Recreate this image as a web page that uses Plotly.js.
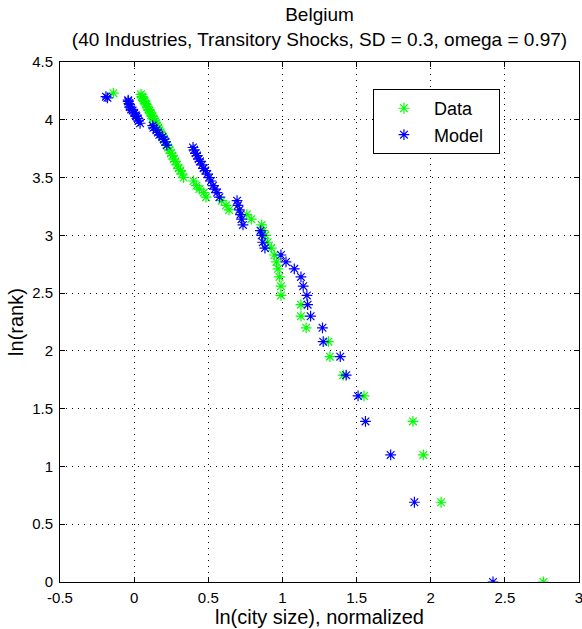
<!DOCTYPE html>
<html>
<head>
<meta charset="utf-8">
<script src="https://cdn.plot.ly/plotly-3.0.1.min.js"></script>
<style>html,body{margin:0;padding:0;background:#fff;}#chart{width:582px;height:629px;}</style>
</head>
<body>
<div id="chart"></div>
<script>
// ln(rank), rank 1..69
var lnRank = [0, 0.69, 1.10, 1.39, 1.61, 1.79, 1.95, 2.08, 2.20, 2.30, 2.40, 2.48, 2.56, 2.64, 2.71, 2.77, 2.83, 2.89, 2.94, 3.00,
  3.04, 3.09, 3.14, 3.18, 3.22, 3.26, 3.30, 3.33, 3.37, 3.40, 3.43, 3.47, 3.50, 3.53, 3.56, 3.58, 3.61, 3.64, 3.66, 3.69,
  3.71, 3.74, 3.76, 3.78, 3.81, 3.83, 3.85, 3.87, 3.89, 3.91, 3.93, 3.95, 3.97, 3.99, 4.01, 4.03, 4.04, 4.06, 4.08, 4.09,
  4.11, 4.13, 4.14, 4.16, 4.17, 4.19, 4.20, 4.22, 4.23];

// Data: ln(city size), normalized, by rank
var dataSize = [2.76, 2.07, 1.95, 1.88, 1.55, 1.41, 1.32, 1.31, 1.16, 1.125, 1.125, 0.99, 0.99, 0.98, 0.97, 0.96, 0.945, 0.925, 0.90, 0.885,
  0.87, 0.86, 0.79, 0.76, 0.64, 0.62, 0.59, 0.485, 0.47, 0.44, 0.42, 0.40, 0.333, 0.323, 0.311, 0.30, 0.289, 0.278, 0.268, 0.258,
  0.248, 0.238, 0.229, 0.22, 0.211, 0.202, 0.194, 0.185, 0.177, 0.169, 0.161, 0.153, 0.146, 0.138, 0.131, 0.124, 0.116, 0.11, 0.103, 0.096,
  0.089, 0.083, 0.077, 0.07, 0.064, 0.058, 0.052, 0.046, -0.14];

// Model: ln(city size), normalized, by rank
var modelSize = [2.42, 1.89, 1.73, 1.56, 1.51, 1.43, 1.39, 1.275, 1.27, 1.19, 1.17, 1.165, 1.14, 1.125, 1.08, 1.024, 0.99, 0.882, 0.867, 0.86,
  0.852, 0.734, 0.724, 0.717, 0.71, 0.70, 0.694, 0.575, 0.559, 0.545, 0.532, 0.518, 0.505, 0.493, 0.48, 0.468, 0.458, 0.444, 0.435, 0.424,
  0.414, 0.404, 0.397, 0.22, 0.21, 0.20, 0.19, 0.17, 0.16, 0.15, 0.13, 0.125, 0.04, 0.03, 0.025, 0.015, 0.01, 0.0, -0.01, -0.02,
  -0.03, -0.03, -0.035, -0.04, -0.04, -0.18, -0.19];

var seriesNames = ['Data', 'Model'];
var titleText = 'Belgium<br>(40 Industries, Transitory Shocks, SD = 0.3, omega = 0.97)';
var xTitle = 'ln(city size), normalized';
var yTitle = 'ln(rank)';
var xTicks = [-0.5, 0, 0.5, 1, 1.5, 2, 2.5, 3];
var xTickText = ['-0.5', '0', '0.5', '1', '1.5', '2', '2.5', '3'];
var yTicks = [0, 0.5, 1, 1.5, 2, 2.5, 3, 3.5, 4, 4.5];
var yTickText = ['0', '0.5', '1', '1.5', '2', '2.5', '3', '3.5', '4', '4.5'];

var FONT = 'Arial, "Liberation Sans", Helvetica, sans-serif';

function mk(color) {
  return {symbol: 'asterisk-open', size: 9, color: color, line: {color: color, width: 1.2}};
}

var pad = '\u00a0\u00a0';
var traces = [
  {x: dataSize, y: lnRank.slice(0, dataSize.length), mode: 'markers', type: 'scatter', name: seriesNames[0] + pad, marker: mk('#00ff00')},
  {x: modelSize, y: lnRank.slice(0, modelSize.length), mode: 'markers', type: 'scatter', name: seriesNames[1] + pad, marker: mk('#0000ff')}
];

var axisCommon = {
  showline: true, linecolor: '#000', linewidth: 1, mirror: 'ticks',
  ticks: 'inside', ticklen: 5, tickcolor: '#000', tickwidth: 1,
  showgrid: true, gridcolor: '#000', gridwidth: 1, griddash: '1px,5px',
  zeroline: false, automargin: false, ticklabeloverflow: 'allow',
  tickfont: {family: FONT, size: 15, color: '#000'}
};

var layout = {
  width: 582, height: 629,
  margin: {l: 60, r: 3, t: 62, b: 47},
  paper_bgcolor: '#fff', plot_bgcolor: '#fff',
  font: {family: FONT, color: '#000'},
  title: {text: titleText, font: {family: FONT, size: 19, color: '#000'}, x: 0.5, xref: 'paper', xanchor: 'center',
    y: 0.966, yref: 'container', yanchor: 'top'},
  xaxis: Object.assign({}, axisCommon, {range: [-0.5, 3], tickvals: xTicks, ticktext: xTickText, ticklabelstandoff: 2,
    title: {text: xTitle, font: {family: FONT, size: 20, color: '#000'}, standoff: 0}}),
  yaxis: Object.assign({}, axisCommon, {range: [0, 4.5], tickvals: yTicks, ticktext: yTickText, ticklabelstandoff: 3,
    title: {text: yTitle, font: {family: FONT, size: 20, color: '#000'}, standoff: 3}}),
  showlegend: true,
  legend: {x: 0.603, y: 0.948, xanchor: 'left', yanchor: 'top', bgcolor: '#fff', bordercolor: '#000', borderwidth: 1,
    font: {family: FONT, size: 18, color: '#000'}, itemwidth: 50}
};

Plotly.newPlot('chart', traces, layout, {staticPlot: true, displayModeBar: false});
</script>
</body>
</html>
